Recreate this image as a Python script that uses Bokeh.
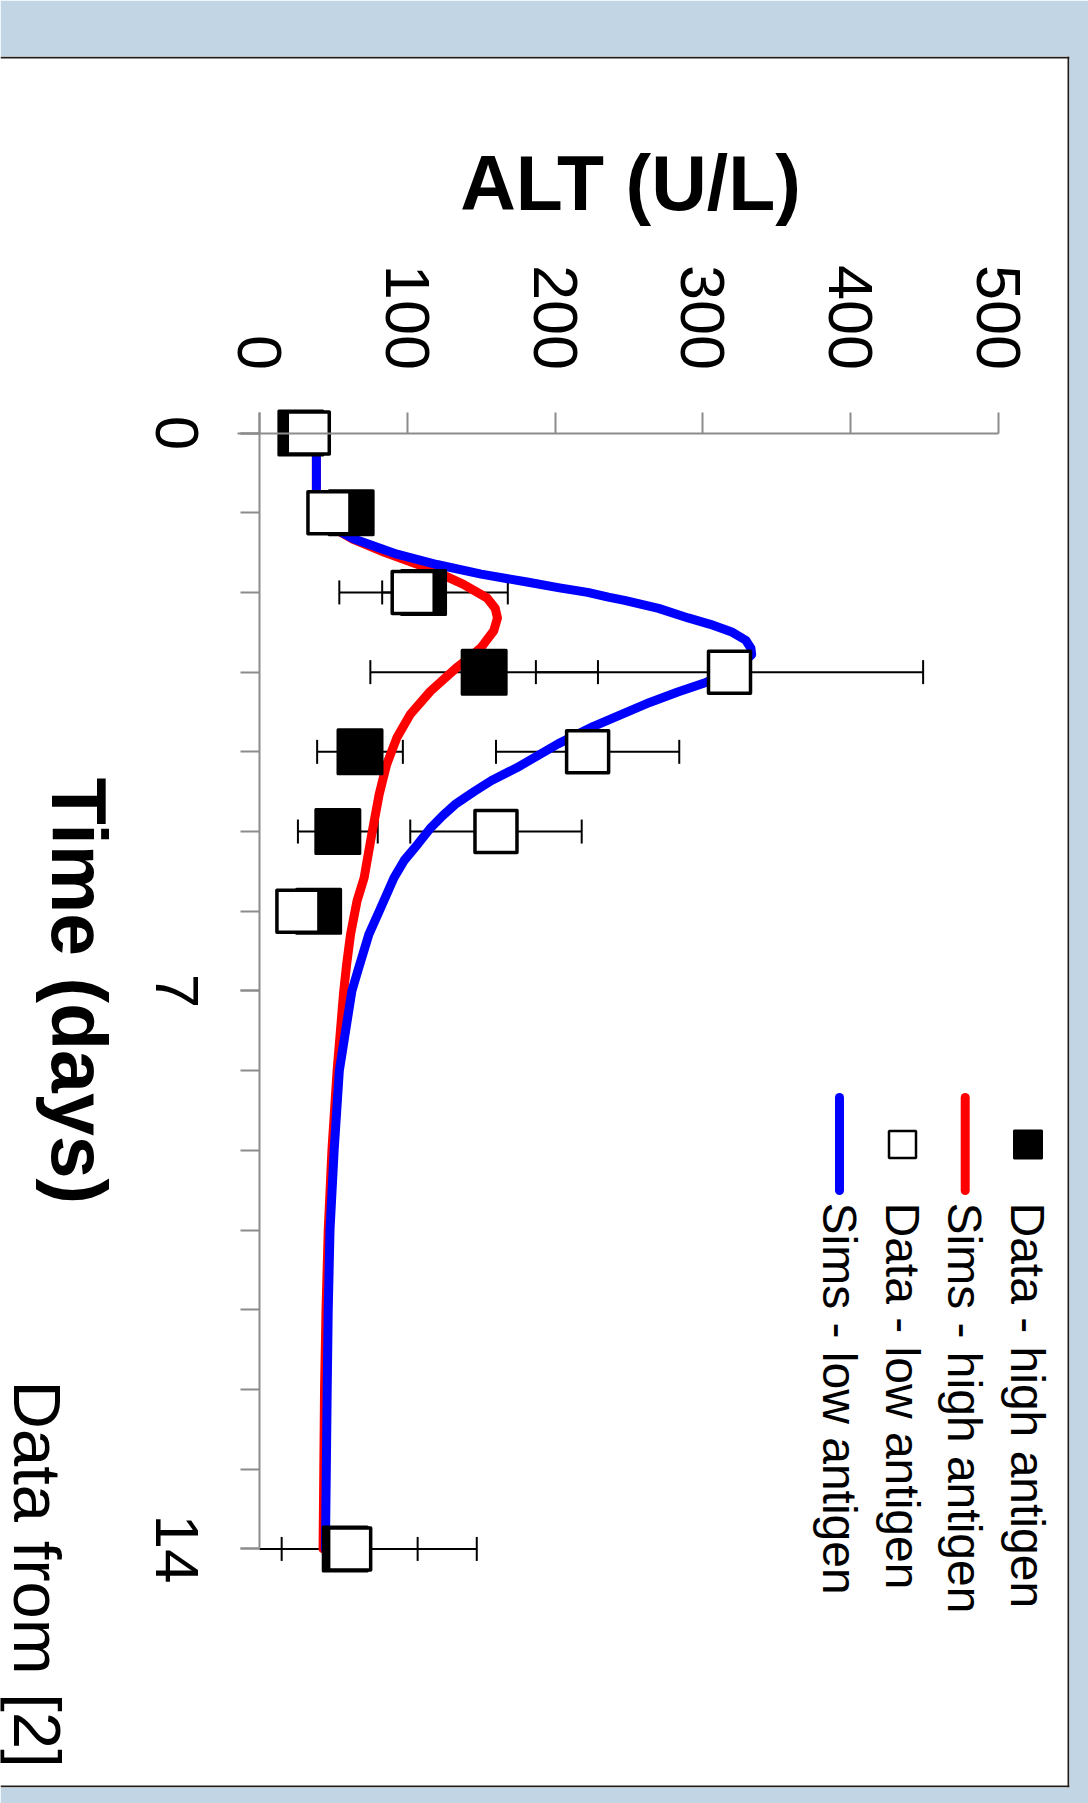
import math
from bokeh.plotting import figure
from bokeh.models import Range1d, LinearAxis, FixedTicker, Label, Span
from bokeh.embed import file_html
from bokeh.resources import INLINE

# ---------------- data ----------------
data_days = [0, 1, 2, 3, 4, 5, 6, 14]
high_alt = [28, 62, 111, 152, 68, 53, 40, 58]
high_err = [0, 0, 57, 77, 29, 27, 0, 89]
low_alt = [33, 47, 104, 318, 222, 160, 26, 61]
low_err = [0, 0, 21, 131, 62, 58, 0, 46]

sim_low_days = [0, 1.0, 1.15, 1.33, 1.52, 1.65, 1.77, 1.87, 1.94, 2.0, 2.06, 2.1, 2.2,
                2.32, 2.4, 2.5, 2.6, 2.7, 2.78, 2.9, 3.0, 3.13, 3.25, 3.38, 3.68, 3.9,
                4.2, 4.36, 4.5, 4.65, 4.8, 4.95, 5.16, 5.36, 5.58, 6.0, 6.29, 6.75, 7.0,
                8.0, 9.0, 10.0, 11.0, 12.0, 13.0, 14.0]
sim_low_alt = [38.5, 38.5, 46, 64, 93, 120, 150, 181, 202, 222, 236, 247, 270,
               290, 305, 320, 329, 332.5, 333, 326, 316, 302, 283, 264, 226, 202,
               174, 157, 145, 133, 124, 116, 107, 98, 91, 81, 74, 66.5, 62.5,
               54, 50.5, 47.7, 46.5, 45.8, 45.2, 44.6]

sim_high_days = [0, 1.0, 1.15, 1.33, 1.5, 1.71, 1.9, 2.07, 2.2, 2.32, 2.48, 2.69, 2.85,
                 2.95, 3.24, 3.53, 3.82, 4.16, 4.53, 5.03, 5.58, 5.87, 6.29, 6.66, 7.0,
                 8.0, 9.0, 10.0, 11.0, 12.0, 13.0, 14.0]
sim_high_alt = [38.5, 38.5, 46, 63, 85, 116, 138, 154, 159.5, 161, 158.5, 150, 140,
                133, 115.6, 102, 93, 86, 81, 76, 70.8, 66, 61.6, 59, 57,
                52.5, 49, 46.5, 45, 44, 43.5, 43]

alt_ticks = [0, 100, 200, 300, 400, 500]
day_ticks = [0, 7, 14]
day_minor_ticks = list(range(15))

legend_labels = ["Data - high antigen", "Sims - high antigen",
                 "Data - low antigen", "Sims - low antigen"]

# ---------------- layout helpers (pixel -> data) ----------------
X0, KX = 259.0, 1.478      # px of ALT 0, px per U/L
Y0, KY = 432.5, 79.71      # px of day 0, px per day


def ax(px):
    return (px - X0) / KX


def ay(py):
    return (py - Y0) / KY


FONT = "Liberation Sans"
AXIS_COLOR = "#8c8c8c"
BORDER = "#1e1e1e"
BASE_SHIFT = 0.37   # em: correction for where the rendered baseline lands

p = figure(width=1088, height=1803, output_backend="svg", toolbar_location=None,
           x_range=Range1d(ax(0), ax(1069)), y_range=Range1d(ay(1787), ay(56)),
           x_axis_location=None, y_axis_location=None,
           min_border_left=0, min_border_right=19, min_border_top=56, min_border_bottom=16,
           background_fill_color="white", border_fill_color="#c1d5e5",
           outline_line_color=None)
p.grid.visible = False
p.title.visible = False

# panel border: top, bottom and right edges only
p.add_layout(Span(location=ay(57), dimension="width", line_color=BORDER, line_width=2))
p.add_layout(Span(location=ay(1786), dimension="width", line_color=BORDER, line_width=2))
p.add_layout(Span(location=ax(1068), dimension="height", line_color=BORDER, line_width=2))

# ---------------- axes ----------------
alt_axis = LinearAxis(fixed_location=0, ticker=FixedTicker(ticks=alt_ticks),
                      bounds=(-15, 500))
alt_axis.axis_line_color = AXIS_COLOR
alt_axis.axis_line_width = 2
alt_axis.major_tick_line_color = AXIS_COLOR
alt_axis.major_tick_line_width = 2
alt_axis.major_tick_out = 21
alt_axis.major_tick_in = 0
alt_axis.minor_tick_out = 0
alt_axis.minor_tick_in = 0
alt_axis.major_label_orientation = -math.pi / 2
alt_axis.major_label_standoff = 42
alt_axis.major_label_text_font = FONT
alt_axis.major_label_text_font_size = "63px"
alt_axis.major_label_text_color = "black"
p.add_layout(alt_axis, "above")

time_axis = LinearAxis(fixed_location=0,
                       ticker=FixedTicker(ticks=day_ticks, minor_ticks=day_minor_ticks),
                       bounds=(-0.26, 14))
time_axis.axis_line_color = AXIS_COLOR
time_axis.axis_line_width = 2
time_axis.major_tick_line_color = AXIS_COLOR
time_axis.major_tick_line_width = 2
time_axis.minor_tick_line_color = AXIS_COLOR
time_axis.minor_tick_line_width = 2
time_axis.major_tick_out = 19
time_axis.major_tick_in = 0
time_axis.minor_tick_out = 19
time_axis.minor_tick_in = 0
time_axis.major_label_overrides = {d: "" for d in day_ticks}
p.add_layout(time_axis, "left")

# time tick labels, rotated and centred on their ticks
TICK_FS = 62
for d in day_ticks:
    p.add_layout(Label(x=ax(154 + BASE_SHIFT * TICK_FS), y=d, text=str(d),
                       angle=-math.pi / 2, text_align="center",
                       text_baseline="alphabetic", text_font=FONT,
                       text_font_size=f"{TICK_FS}px", text_color="black"))

# ---------------- error bars ----------------
def error_parts(vals, errs, days):
    x0, x1, yy, cx, cy = [], [], [], [], []
    for v, e, d in zip(vals, errs, days):
        if e <= 0:
            continue
        lo, hi = v - e, v + e
        x0.append(max(lo, 0))
        x1.append(hi)
        yy.append(d)
        cx.append(hi)
        cy.append(d)
        if lo >= 0:
            cx.append(lo)
            cy.append(d)
    return x0, x1, yy, cx, cy


for vals, errs in ((high_alt, high_err), (low_alt, low_err)):
    x0, x1, yy, cx, cy = error_parts(vals, errs, data_days)
    p.segment(x0=x0, y0=yy, x1=x1, y1=yy, line_color="black", line_width=2)
    p.scatter(x=cx, y=cy, marker="dash", angle=math.pi / 2, size=24,
              line_color="black", line_width=2)

# ---------------- simulation curves ----------------
p.line(sim_high_alt, sim_high_days, line_color="#ff0000", line_width=9,
       line_join="round", line_cap="round")
p.line(sim_low_alt, sim_low_days, line_color="#0000ff", line_width=9,
       line_join="round", line_cap="round")

# ---------------- data markers ----------------
p.scatter(high_alt, data_days, marker="square", size=44, fill_color="black",
          line_color="black", line_width=3, line_join="round")
p.scatter(low_alt, data_days, marker="square", size=42, fill_color="white",
          line_color="black", line_width=3.5, line_join="round")

# ---------------- titles ----------------
TITLE_FS = 77
p.add_layout(Label(x=251, y=ay(211 - BASE_SHIFT * TITLE_FS), text="ALT (U/L)",
                   text_align="center", text_baseline="alphabetic", text_font=FONT,
                   text_font_style="bold", text_font_size=f"{TITLE_FS}px",
                   text_color="black"))
p.add_layout(Label(x=ax(50 + BASE_SHIFT * TITLE_FS), y=7, text="Time (days)",
                   angle=-math.pi / 2, text_align="center", text_baseline="alphabetic",
                   text_font=FONT, text_font_style="bold",
                   text_font_size=f"{TITLE_FS}px", text_color="black"))
NOTE_FS = 67
p.add_layout(Label(x=ax(12 + BASE_SHIFT * NOTE_FS), y=ay(1380), text="Data from [2]",
                   angle=-math.pi / 2, text_align="left", text_baseline="alphabetic",
                   text_font=FONT, text_font_size=f"{NOTE_FS}px", text_color="black"))

# ---------------- legend (drawn manually, rotated) ----------------
sym_x = [1027.5, 964.7, 902.0, 839.0]
sym_top, sym_bot, sym_mid = 1097, 1190, 1144
text_start = 1202
LEG_FS = 48

p.scatter([ax(sym_x[0])], [ay(sym_mid)], marker="square", size=28, fill_color="black",
          line_color="black", line_width=2)
p.segment(x0=[ax(sym_x[1])], y0=[ay(sym_top)], x1=[ax(sym_x[1])], y1=[ay(sym_bot)],
          line_color="#ff0000", line_width=9, line_cap="round")
p.scatter([ax(sym_x[2])], [ay(sym_mid)], marker="square", size=27, fill_color="white",
          line_color="black", line_width=2.5)
p.segment(x0=[ax(sym_x[3])], y0=[ay(sym_top)], x1=[ax(sym_x[3])], y1=[ay(sym_bot)],
          line_color="#0000ff", line_width=9, line_cap="round")

for sx, lab in zip(sym_x, legend_labels):
    p.add_layout(Label(x=ax(sx - 18 + BASE_SHIFT * LEG_FS), y=ay(text_start), text=lab,
                       angle=-math.pi / 2, text_align="left", text_baseline="alphabetic",
                       text_font=FONT, text_font_size=f"{LEG_FS}px", text_color="black"))

open("out.html", "w").write(file_html(p, INLINE))
